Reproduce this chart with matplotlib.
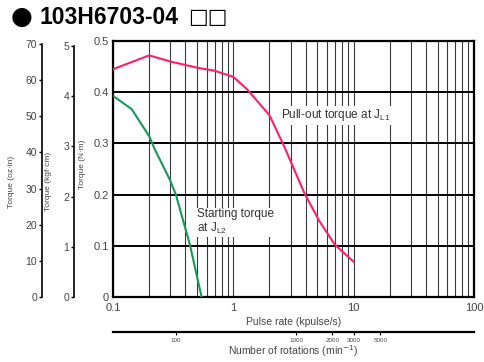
import matplotlib.pyplot as plt
from matplotlib.ticker import FixedLocator, NullFormatter

plt.rcParams['font.family'] = ['Liberation Sans', 'DejaVu Sans']

# pull-out torque at JL1
pull_x = [0.1, 0.2, 0.3, 0.5, 0.7, 1.0, 1.3, 2.0, 2.64, 3.9, 5.2, 7.0, 10.0]
pull_y = [0.445, 0.472, 0.460, 0.448, 0.442, 0.430, 0.406, 0.355, 0.295, 0.203, 0.148, 0.102, 0.069]
# starting torque at JL2
start_x = [0.1, 0.143, 0.2, 0.223, 0.297, 0.333, 0.436, 0.545]
start_y = [0.393, 0.367, 0.314, 0.288, 0.229, 0.200, 0.102, 0.0]

nm_ticks = [0, 0.1, 0.2, 0.3, 0.4, 0.5]
kgf_ticks = [0, 1, 2, 3, 4, 5]
oz_ticks = [0, 10, 20, 30, 40, 50, 60, 70]
x_ticks = [0.1, 1, 10, 100]
x_labels = ['0.1', '1', '10', '100']
rpm_ticks = [100, 1000, 2000, 3000, 5000]

NM_PER_KGFCM = 0.0980665
NM_PER_OZIN = 0.00706155
grey = '#444444'

fig = plt.figure(figsize=(4.85, 3.62), dpi=100)
ax = fig.add_axes([0.233, 0.1796, 0.744, 0.707])

ax.set_xscale('log')
ax.set_xlim(0.1, 100)
ax.set_ylim(0, 0.5)
ax.grid(which='both', axis='x', color='#3a3a3a', lw=0.8)
ax.grid(which='major', axis='y', color='black', lw=1.4)
for s in ax.spines.values():
    s.set_linewidth(1.6)

ax.plot(pull_x, pull_y, color='#ff1e6e', lw=1.5, zorder=3)
ax.plot(start_x, start_y, color='#17985a', lw=1.5, zorder=3)

ax.set_yticks(nm_ticks)
ax.set_yticklabels(['0', '0.1', '0.2', '0.3', '0.4', '0.5'])
ax.xaxis.set_major_locator(FixedLocator(x_ticks))
ax.set_xticklabels(x_labels)
ax.xaxis.set_minor_formatter(NullFormatter())
ax.tick_params(axis='both', which='both', length=0, labelsize=8, labelcolor=grey, pad=3)
ax.tick_params(axis='x', pad=4)
ax.set_ylabel('Torque (N·m)', fontsize=6, color=grey)
ax.yaxis.set_label_coords(-0.075, 0.52)
ax.set_xlabel('Pulse rate (kpulse/s)', fontsize=7.5, color=grey, labelpad=3)

box = dict(facecolor='white', edgecolor='none', pad=1)
ax.text(2.5, 0.355, 'Pull-out torque at J$_{\\mathregular{L1}}$', fontsize=8.5,
        color='#333333', va='center', bbox=box, zorder=4)
ax.text(0.5, 0.146, 'Starting torque\nat J$_{\\mathregular{L2}}$', fontsize=8.5,
        color='#333333', linespacing=1.05, va='center', bbox=box, zorder=4)

# extra torque scales on the left
def side_axis(pos, top, ticks, label, lab_x):
    a = ax.twinx()
    a.set_ylim(0, top)
    a.yaxis.set_ticks_position('left')
    a.yaxis.set_label_position('left')
    for k in ['right', 'top', 'bottom']:
        a.spines[k].set_visible(False)
    a.spines['left'].set_visible(True)
    a.spines['left'].set_position(('axes', pos))
    a.spines['left'].set_bounds(ticks[0], ticks[-1])
    a.spines['left'].set_linewidth(1.2)
    a.set_yticks(ticks)
    a.tick_params(axis='y', length=2.5, width=1, labelsize=7.5, labelcolor=grey, pad=1)
    a.set_ylabel(label, fontsize=6, color=grey)
    a.yaxis.set_label_coords(lab_x, 0.45)
    return a

side_axis(-0.108, 0.5 / NM_PER_KGFCM, kgf_ticks, 'Torque (kgf·cm)', -0.17)
side_axis(-0.197, 0.5 / NM_PER_OZIN, oz_ticks, 'Torque (oz·in)', -0.272)

# rotations scale below
sec = ax.secondary_xaxis(-0.135, functions=(lambda x: 300 * x, lambda r: r / 300))
sec.set_xticks(rpm_ticks)
sec.set_xticklabels([str(t) for t in rpm_ticks])
sec.xaxis.set_minor_locator(FixedLocator([]))
sec.tick_params(axis='x', length=2, width=0.8, labelsize=4.5, labelcolor=grey, pad=3)
sec.spines['bottom'].set_linewidth(1.6)
sec.set_xlabel('Number of rotations (min$^{-1}$)', fontsize=7.5, color=grey, labelpad=0)

fig.text(0.045, 0.953, '●', fontsize=18, va='center', ha='center', family=['DejaVu Sans'])
fig.text(0.082, 0.953, '103H6703-04', fontsize=16.5, fontweight='bold', va='center', ha='left')
fig.text(0.388, 0.953, '□□', fontsize=15, va='center', ha='left', family=['DejaVu Sans'])

fig.savefig('out.png', dpi=100, facecolor='white')
